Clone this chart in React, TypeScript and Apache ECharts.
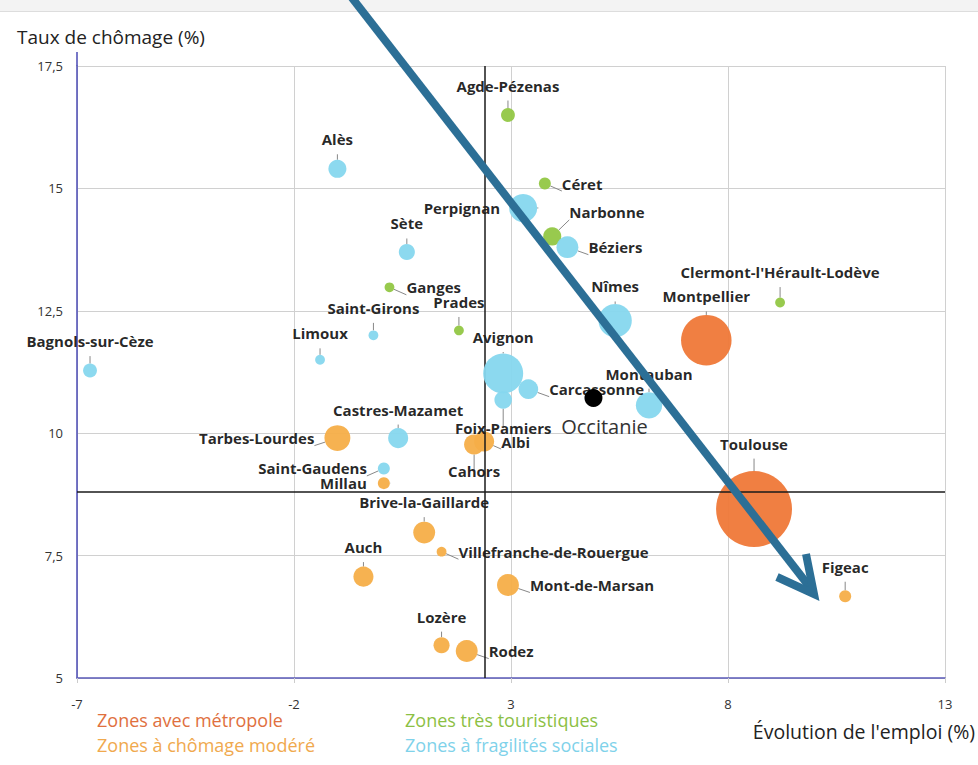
import React, { useEffect, useRef } from "react";
import * as echarts from "echarts";

// ---- Data ----
const zoneNames = [
  "Zones avec métropole",
  "Zones à chômage modéré",
  "Zones très touristiques",
  "Zones à fragilités sociales",
];

// Zones avec métropole
const metroNames = ["Toulouse", "Montpellier"];
const metroEmploi = [8.6, 7.5];
const metroChomage = [8.45, 11.9];
const metroPoids = [600, 265];

// Zones à chômage modéré
const modereNames = [
  "Tarbes-Lourdes", "Cahors", "Albi", "Millau", "Brive-la-Gaillarde",
  "Villefranche-de-Rouergue", "Auch", "Mont-de-Marsan", "Figeac", "Lozère", "Rodez",
];
const modereEmploi = [-1.0, 2.15, 2.38, 0.07, 1.0, 1.4, -0.4, 2.93, 10.7, 1.4, 1.98];
const modereChomage = [9.9, 9.77, 9.83, 8.98, 7.97, 7.58, 7.07, 6.9, 6.67, 5.67, 5.55];
const moderePoids = [70, 42, 42, 15, 50, 10, 42, 50, 15, 27, 50];

// Zones très touristiques
const touriNames = ["Agde-Pézenas", "Céret", "Narbonne", "Ganges", "Clermont-l'Hérault-Lodève", "Prades"];
const touriEmploi = [2.93, 3.78, 3.95, 0.2, 9.2, 1.8];
const touriChomage = [16.5, 15.1, 14.02, 12.98, 12.67, 12.1];
const touriPoids = [20, 15, 34, 10, 10, 10];

// Zones à fragilités sociales
const fragNames = [
  "Alès", "Perpignan", "Béziers", "Sète", "Saint-Girons", "Nîmes", "Limoux",
  "Bagnols-sur-Cèze", "Avignon", "Carcassonne", "Foix-Pamiers", "Montauban",
  "Castres-Mazamet", "Saint-Gaudens",
];
const fragEmploi = [-1.0, 3.28, 4.3, 0.6, -0.17, 5.4, -1.4, -6.7, 2.82, 3.4, 2.82, 6.18, 0.4, 0.07];
const fragChomage = [15.4, 14.6, 13.8, 13.7, 12.0, 12.3, 11.5, 11.28, 11.22, 10.9, 10.68, 10.57, 9.9, 9.28];
const fragPoids = [34, 82, 50, 27, 10, 115, 10, 20, 166, 40, 32, 72, 42, 15];

// Région
const regionName = "Occitanie";
const regionEmploi = 4.9;
const regionChomage = 10.72;

// Moyennes (lignes de référence)
const moyenneEmploi = 2.4;
const moyenneChomage = 8.8;

const xTicks = { min: -7, max: 13, interval: 5 };
const yTicks = { min: 5, max: 17.5, interval: 2.5 };

// ---- Styles ----
const colors = ["#ef7838", "#f5ae48", "#92c744", "#86d7ee"];
const legendColors = ["#e0703e", "#f0a94e", "#8cc044", "#7fd2ea"];

const labelPlacement: Record<string, [string, number, number[]?]> = {
  "Agde-Pézenas": ["top", 15],
  "Alès": ["top", 13],
  "Céret": ["right", 11],
  "Perpignan": ["left", 9],
  "Narbonne": ["right", 8, [0, -24]],
  "Béziers": ["right", 10],
  "Sète": ["top", 13],
  "Ganges": ["right", 12],
  "Clermont-l'Hérault-Lodève": ["top", 18],
  "Prades": ["top", 16],
  "Saint-Girons": ["top", 15],
  "Nîmes": ["top", 10],
  "Montpellier": ["top", 11],
  "Limoux": ["top", 14],
  "Bagnols-sur-Cèze": ["top", 15],
  "Avignon": ["top", 9],
  "Carcassonne": ["right", 11],
  "Foix-Pamiers": ["bottom", 12],
  "Montauban": ["top", 11],
  "Tarbes-Lourdes": ["left", 10],
  "Castres-Mazamet": ["top", 11],
  "Albi": ["right", 7],
  "Cahors": ["bottom", 9],
  "Saint-Gaudens": ["left", 11],
  "Millau": ["left", 11],
  "Brive-la-Gaillarde": ["top", 12],
  "Villefranche-de-Rouergue": ["right", 12],
  "Auch": ["top", 12],
  "Mont-de-Marsan": ["right", 11],
  "Toulouse": ["top", 20],
  "Figeac": ["top", 16],
  "Lozère": ["top", 13],
  "Rodez": ["right", 11],
};

const sizeOf = (v: number) => Math.sqrt(v) * 3.1;

function buildData(names: string[], xs: number[], ys: number[], ws: number[]) {
  return names.map((n, i) => {
    const p = labelPlacement[n] || ["top", 10];
    const lab: any = { position: p[0], distance: p[1] };
    if (p[2]) lab.offset = p[2];
    return {
      name: n,
      value: [xs[i], ys[i], ws[i]],
      symbolSize: sizeOf(ws[i]),
      label: lab,
    };
  });
}

export default function App() {
  const ref = useRef<HTMLDivElement>(null);

  useEffect(() => {
    if (!ref.current) return;
    const chart = echarts.init(ref.current, undefined, { renderer: "svg" });

    const groups = [
      buildData(metroNames, metroEmploi, metroChomage, metroPoids),
      buildData(modereNames, modereEmploi, modereChomage, moderePoids),
      buildData(touriNames, touriEmploi, touriChomage, touriPoids),
      buildData(fragNames, fragEmploi, fragChomage, fragPoids),
    ];

    const baseLabel = {
      show: true,
      formatter: "{b}",
      color: "#1a1a1a",
      fontFamily: "Open Sans",
      fontWeight: "bold",
      fontSize: 15,
    };

    const series: any[] = groups.map((data, gi) => ({
      name: zoneNames[gi],
      type: "scatter",
      data,
      itemStyle: { color: colors[gi], opacity: 0.95 },
      label: baseLabel,
      labelLine: { show: true, lineStyle: { color: "#888", width: 1 } },
      emphasis: { disabled: true },
      z: 2 + gi,
    }));

    series.push({
      name: regionName,
      type: "scatter",
      data: [
        {
          name: regionName,
          value: [regionEmploi, regionChomage],
          symbolSize: 18,
          label: { position: "bottom", distance: 10 },
        },
      ],
      itemStyle: { color: "#000", opacity: 1 },
      emphasis: { disabled: true },
      label: {
        show: true,
        formatter: "{b}",
        color: "#333",
        fontFamily: "Open Sans",
        fontSize: 20,
        offset: [11, 0],
      },
      z: 7,
    });

    series.push({
      type: "scatter",
      data: [],
      z: 8,
      markLine: {
        silent: true,
        symbol: "none",
        label: { show: false },
        lineStyle: { color: "#1a1a1a", width: 1.5, type: "solid" },
        data: [{ xAxis: moyenneEmploi }, { yAxis: moyenneChomage }],
      },
    });

    const gridLeft = 77;
    const gridRight = 33;
    const gridTop = 66;
    const gridBottom = 87;

    chart.setOption({
      animation: false,
      backgroundColor: "#ffffff",
      grid: { left: gridLeft, right: gridRight, top: gridTop, bottom: gridBottom },
      xAxis: {
        type: "value",
        min: xTicks.min,
        max: xTicks.max,
        interval: xTicks.interval,
        axisLine: { show: true, onZero: false, lineStyle: { color: "#5a5ab8", width: 1.5 } },
        axisTick: { show: true, length: 5, lineStyle: { color: "#ccc" } },
        axisLabel: {
          color: "#333",
          fontFamily: "Open Sans",
          fontSize: 13,
          margin: 19,
          formatter: (v: number) => String(v),
        },
        splitLine: { show: true, lineStyle: { color: "#d0d0d0", width: 1 } },
      },
      yAxis: {
        type: "value",
        min: yTicks.min,
        max: yTicks.max,
        interval: yTicks.interval,
        axisLine: { show: true, onZero: false, lineStyle: { color: "#4a4ab5", width: 1.5 } },
        axisTick: { show: false },
        axisLabel: {
          color: "#333",
          fontFamily: "Open Sans",
          fontSize: 13,
          margin: 14,
          formatter: (v: number) => String(v).replace(".", ","),
        },
        splitLine: { show: true, lineStyle: { color: "#d0d0d0", width: 1 } },
      },
      graphic: [
        { type: "rect", shape: { x: 0, y: 0, width: 978, height: 11 }, style: { fill: "#f3f3f3" }, silent: true },
        { type: "line", shape: { x1: 0, y1: 11.5, x2: 978, y2: 11.5 }, style: { stroke: "#dddddd", lineWidth: 1 }, silent: true },
        { type: "line", shape: { x1: gridLeft, y1: 52, x2: gridLeft, y2: gridTop }, style: { stroke: "#4a4ab5", lineWidth: 1.5 }, silent: true },
        {
          type: "text", left: 17, top: 27,
          style: { text: "Taux de chômage (%)", fill: "#222", font: "19px 'Open Sans'" },
        },
        {
          type: "text", right: 3, top: 721,
          style: { text: "Évolution de l'emploi (%)", fill: "#222", font: "19.5px 'Open Sans'" },
        },
        { type: "text", left: 97, top: 711, style: { text: zoneNames[0], fill: legendColors[0], font: "18px 'Open Sans'" } },
        { type: "text", left: 97, top: 736, style: { text: zoneNames[1], fill: legendColors[1], font: "18px 'Open Sans'" } },
        { type: "text", left: 405, top: 711, style: { text: zoneNames[2], fill: legendColors[2], font: "18px 'Open Sans'" } },
        { type: "text", left: 405, top: 736, style: { text: zoneNames[3], fill: legendColors[3], font: "18px 'Open Sans'" } },
        // annotation arrow
        {
          type: "line", z: 100,
          shape: { x1: 349, y1: -6, x2: 812, y2: 590 },
          style: { stroke: "#2c6f96", lineWidth: 8, lineCap: "butt" },
          silent: true,
        },
        {
          type: "polyline", z: 100,
          shape: { points: [[806, 554], [814, 594], [777, 577]] },
          style: { stroke: "#2c6f96", lineWidth: 8, fill: "none", lineJoin: "miter" },
          silent: true,
        },
      ],
      series,
    });

    return () => chart.dispose();
  }, []);

  return (
    <div
      ref={ref}
      style={{ position: "absolute", left: 0, top: 0, width: 978, height: 765 }}
    />
  );
}
